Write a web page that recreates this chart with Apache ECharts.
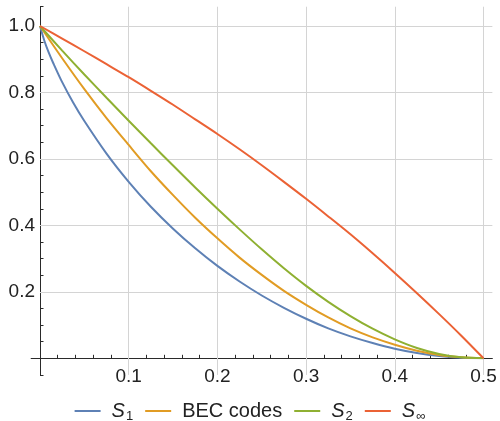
<!DOCTYPE html>
<html>
<head>
<meta charset="utf-8">
<script src="https://cdn.jsdelivr.net/npm/echarts@6/dist/echarts.min.js"></script>
<style>
html,body{margin:0;padding:0;background:#fff;}
#chart{width:500px;height:421px;}
</style>
</head>
<body>
<div id="chart"></div>
<script>
// ---- data ----
const seriesNames = ['S1', 'BEC codes', 'S2', 'S∞'];
const xTicks = [0.1, 0.2, 0.3, 0.4, 0.5];
const yTicks = [0.2, 0.4, 0.6, 0.8, 1.0];

const s1X = [0, 0.005, 0.01, 0.015, 0.025, 0.0375, 0.05, 0.075, 0.1, 0.125, 0.15, 0.175, 0.2, 0.225, 0.25, 0.275, 0.3, 0.325, 0.35, 0.375, 0.4, 0.425, 0.45, 0.475, 0.5];
const s1Y = [1, 0.955, 0.919, 0.888, 0.831, 0.769, 0.714, 0.616, 0.531, 0.456, 0.390, 0.331, 0.278, 0.231, 0.189, 0.152, 0.119, 0.090, 0.066, 0.046, 0.029, 0.016, 0.007, 0.002, 0];

const xs = [0, 0.025, 0.05, 0.075, 0.1, 0.125, 0.15, 0.175, 0.2, 0.225, 0.25, 0.275, 0.3, 0.325, 0.35, 0.375, 0.4, 0.425, 0.45, 0.475, 0.5];
const becY = [1, 0.903, 0.810, 0.723, 0.642, 0.563, 0.491, 0.423, 0.361, 0.303, 0.251, 0.203, 0.161, 0.123, 0.090, 0.063, 0.041, 0.023, 0.010, 0.003, 0];
const s2Y  = [1, 0.926, 0.854, 0.784, 0.715, 0.647, 0.580, 0.514, 0.450, 0.388, 0.328, 0.271, 0.218, 0.170, 0.127, 0.089, 0.057, 0.031, 0.013, 0.003, 0];
const sInfY = [1, 0.962, 0.924, 0.885, 0.846, 0.805, 0.763, 0.719, 0.675, 0.629, 0.581, 0.531, 0.480, 0.427, 0.373, 0.316, 0.257, 0.196, 0.133, 0.068, 0];

// ---- axis ranges ----
const xMin = 0, xMax = 0.5, yMin = 0, yMax = 1;
const xExtMin = -0.01, xExtMax = 0.51, yExtMin = -0.05, yExtMax = 1.058;

// ---- layout ----
const g0 = {left: 40, top: 26, width: 443.5, height: 332.3};
const pxX = g0.width / (xMax - xMin), pxY = g0.height / (yMax - yMin);
const g1 = {
  left: g0.left + (xExtMin - xMin) * pxX,
  top: g0.top - (yExtMax - yMax) * pxY,
  width: (xExtMax - xExtMin) * pxX,
  height: (yExtMax - yExtMin) * pxY
};

const colors = ['#5E81B5', '#E19C24', '#8FB032', '#EB6235'];
const font = "'Liberation Sans', Arial, Helvetica, sans-serif";
const axisColor = '#2a2a2a';

function pairs(x, y) { return x.map((v, i) => [v, y[i]]); }

const curveData = [pairs(s1X, s1Y), pairs(xs, becY), pairs(xs, s2Y), pairs(xs, sInfY)];

const curves = seriesNames.map((n, i) => ({
  name: n, type: 'line', xAxisIndex: 0, yAxisIndex: 0,
  data: curveData[i], symbol: 'none', showSymbol: false, smooth: 0.3,
  lineStyle: {color: colors[i], width: 2}, itemStyle: {color: colors[i]},
  z: 5, animation: false
}));

const gridSeries = {
  type: 'line', xAxisIndex: 1, yAxisIndex: 1, data: [[0, 0]], symbol: 'none',
  silent: true, z: 1, animation: false,
  markLine: {
    silent: true, symbol: ['none', 'none'], animation: false,
    label: {show: false},
    lineStyle: {color: '#d4d4d4', width: 1, type: 'solid'},
    data: xTicks.map(v => ({xAxis: v})).concat(
      yTicks.map(v => [{coord: [0, v]}, {coord: [xExtMax, v]}]))
  }
};

const chart = echarts.init(document.getElementById('chart'), null, {renderer: 'canvas'});
chart.setOption({
  animation: false,
  backgroundColor: '#fff',
  grid: [
    Object.assign({containLabel: false}, g0),
    Object.assign({containLabel: false}, g1)
  ],
  xAxis: [
    {
      type: 'value', gridIndex: 0, min: xMin, max: xMax, interval: 0.1,
      axisLine: {show: false},
      axisTick: {show: true, inside: true, length: 5, lineStyle: {color: axisColor, width: 1}},
      minorTick: {show: true, splitNumber: 5, length: 3.5, lineStyle: {color: axisColor, width: 1}},
      splitLine: {show: false}, minorSplitLine: {show: false},
      axisLabel: {show: true, showMinLabel: false, margin: 9, color: '#222', fontSize: 19, fontFamily: font,
        formatter: v => v.toFixed(1)}
    },
    {
      type: 'value', gridIndex: 1, min: xExtMin, max: xExtMax,
      axisLine: {show: true, onZero: true, lineStyle: {color: axisColor, width: 1}},
      axisTick: {show: false}, axisLabel: {show: false}, splitLine: {show: false}
    }
  ],
  yAxis: [
    {
      type: 'value', gridIndex: 0, min: yMin, max: yMax, interval: 0.2,
      axisLine: {show: false},
      axisTick: {show: true, inside: true, length: 5, lineStyle: {color: axisColor, width: 1}},
      minorTick: {show: true, splitNumber: 4, length: 3.5, lineStyle: {color: axisColor, width: 1}},
      splitLine: {show: false}, minorSplitLine: {show: false},
      axisLabel: {show: true, showMinLabel: false, margin: 5, color: '#222', fontSize: 19, fontFamily: font,
        formatter: v => v.toFixed(1)}
    },
    {
      type: 'value', gridIndex: 1, min: yExtMin, max: yExtMax,
      axisLine: {show: true, onZero: true, lineStyle: {color: axisColor, width: 1}},
      axisTick: {show: true, inside: true, length: 3.5, customValues: [yExtMin, yExtMax],
        lineStyle: {color: axisColor, width: 1}},
      axisLabel: {show: false}, splitLine: {show: false}
    }
  ],
  legend: {
    data: seriesNames.map((n, i) => ({name: n, icon: 'rect', itemStyle: {color: colors[i]}})),
    top: 396, left: 'center',
    itemWidth: 26, itemHeight: 2, itemGap: 12,
    textStyle: {
      fontFamily: font, fontSize: 20, color: '#222',
      rich: {
        i: {fontFamily: font, fontSize: 20, fontStyle: 'italic', color: '#222', padding: [0, 0, 0, 6]},
        s: {fontFamily: font, fontSize: 13, color: '#222', padding: [10, 0, 0, 1]},
        t: {fontFamily: font, fontSize: 20, color: '#222', padding: [0, 0, 0, 6]}
      }
    },
    formatter: function (name) {
      if (name === 'S1') return '{i|S}{s|1}';
      if (name === 'S2') return '{i|S}{s|2}';
      if (name === 'S∞') return '{i|S}{s|∞}';
      return '{t|' + name + '}';
    }
  },
  series: curves.concat([gridSeries])
});
</script>
</body>
</html>
